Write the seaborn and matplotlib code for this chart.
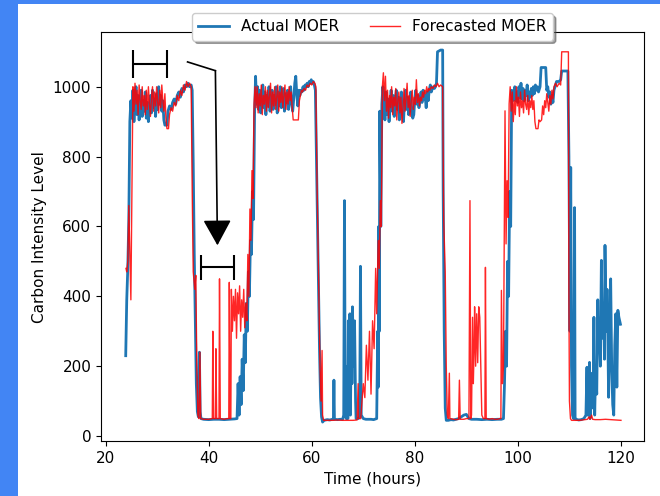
import matplotlib
matplotlib.use('Agg')
import matplotlib.pyplot as plt
import seaborn as sns
from matplotlib.patches import Rectangle

# hours since start
actual_t = [23.9, 24.1, 24.3, 24.5, 24.7, 24.9, 25.1, 25.3, 25.5, 25.7, 25.9, 26.1, 26.3, 26.5, 26.7,
            26.9, 27.1, 27.3, 27.5, 27.7, 27.9, 28.1, 28.3, 28.5, 28.7, 28.9, 29.1, 29.3, 29.5, 29.7,
            29.9, 30.1, 30.3, 30.5, 30.7, 30.9, 31.1, 31.3, 31.5, 31.9, 32.1, 32.4, 32.7, 33.0, 33.3,
            33.6, 33.9, 34.2, 34.5, 34.8, 35.1, 35.4, 35.7, 36.0, 36.3, 36.6, 36.8, 37.0, 37.2, 37.4,
            37.6, 37.8, 38.0, 38.2, 38.35, 38.5, 39.0, 40.0, 41.0, 42.0, 43.0, 44.0, 45.0, 45.5, 45.7,
            45.9, 46.1, 46.3, 46.5, 46.7, 46.9, 47.1, 47.3, 47.5, 47.7, 47.9, 48.1, 48.3, 48.5, 48.7,
            48.9, 49.1, 49.3, 49.5, 49.7, 49.9, 50.1, 50.3, 50.5, 50.7, 50.9, 51.1, 51.3, 51.5, 51.7,
            51.9, 52.1, 52.3, 52.5, 52.7, 52.9, 53.1, 53.3, 53.5, 53.7, 53.9, 54.1, 54.3, 54.5, 54.7,
            54.9, 55.1, 55.3, 55.5, 55.7, 55.9, 56.1, 56.3, 56.5, 56.7, 56.9, 57.1, 57.3, 57.5, 57.7,
            57.9, 58.1, 58.3, 58.5, 58.7, 58.9, 59.1, 59.3, 59.5, 59.7, 59.9, 60.1, 60.3, 60.5, 60.7,
            60.9, 61.1, 61.3, 61.5, 61.7, 61.9, 62.1, 62.4, 63.0, 63.5, 64.0, 64.2, 64.3, 64.4, 65.0,
            65.5, 66.0, 66.2, 66.35, 66.5, 66.7, 66.9, 67.0, 67.1, 67.3, 67.4, 67.5, 67.7, 67.8, 67.9,
            68.1, 68.3, 68.5, 68.6, 69.0, 69.3, 69.45, 69.6, 70.0, 70.5, 71.0, 71.5, 72.0, 72.6, 72.8,
            72.9, 73.0, 73.1, 73.2, 73.4, 73.6, 73.8, 74.0, 74.2, 74.4, 74.6, 74.8, 75.0, 75.2, 75.4,
            75.6, 75.8, 76.0, 76.2, 76.4, 76.6, 76.8, 77.0, 77.2, 77.4, 77.6, 77.8, 78.0, 78.2, 78.4,
            78.6, 78.8, 79.0, 79.2, 79.4, 79.6, 79.8, 80.0, 80.2, 80.4, 80.6, 80.8, 81.0, 81.2, 81.4,
            81.6, 81.8, 82.0, 82.2, 82.4, 82.6, 82.8, 83.0, 83.2, 83.4, 83.6, 83.8, 84.0, 84.2, 84.4,
            85.0, 85.4, 85.5, 85.7, 85.9, 86.1, 86.5, 87.0, 87.5, 88.0, 88.5, 89.0, 89.5, 90.0, 90.5,
            91.0, 92.0, 93.0, 94.0, 95.0, 96.0, 96.8, 97.2, 97.4, 97.6, 97.8, 98.0, 98.2, 98.4, 98.6,
            98.8, 99.0, 99.2, 99.4, 99.6, 99.8, 100.0, 100.2, 100.4, 100.6, 100.8, 101.0, 101.2, 101.4,
            101.6, 101.8, 102.0, 102.2, 102.4, 102.6, 102.8, 103.0, 103.2, 103.4, 103.6, 103.8, 104.0,
            104.3, 104.5, 105.4, 105.6, 105.8, 106.0, 106.2, 106.4, 106.6, 106.8, 107.0, 107.2, 107.5,
            108.0, 108.3, 108.5, 109.7, 109.9, 110.1, 110.25, 110.4, 110.6, 110.8, 111.0, 111.1, 111.3,
            111.8, 112.3, 112.8, 113.2, 113.4, 113.5, 113.7, 113.9, 114.0, 114.2, 114.4, 114.6, 114.75,
            114.9, 115.1, 115.3, 115.5, 115.6, 115.8, 116.0, 116.2, 116.4, 116.6, 116.8, 116.9, 117.1,
            117.3, 117.4, 117.6, 117.8, 118.0, 118.2, 118.4, 118.6, 118.8, 119.0, 119.2, 119.4, 119.6,
            119.9]
actual_v = [230, 390, 480, 620, 900, 960, 910, 990, 900, 960, 1000, 920, 975, 905, 950,
            990, 915, 960, 930, 985, 910, 955, 900, 945, 975, 925, 990, 940, 965, 915,
            980, 935, 1000, 950, 975, 930, 960, 905, 890, 890, 930, 945, 935, 955, 965,
            950, 975, 985, 970, 995, 985, 1005, 1000, 1010, 1000, 1005, 990, 780, 520, 330,
            150, 70, 55, 240, 70, 50, 48, 47, 48, 48, 47, 48, 49, 50, 150,
            60, 170, 90, 220, 130, 290, 210, 380, 300, 470, 400, 560, 520, 700, 620,
            920, 1030, 950, 1000, 935, 990, 925, 970, 1005, 940, 985, 920, 975, 945, 1000,
            930, 965, 990, 935, 975, 950, 1000, 925, 985, 945, 1000, 940, 970, 995, 930,
            980, 955, 990, 935, 975, 1000, 950, 930, 965, 1010, 1030, 975, 945, 990, 975,
            990, 985, 1000, 990, 1005, 1000, 1010, 1000, 1015, 1010, 1020, 1010, 1015, 1005, 990,
            800, 600, 420, 250, 110, 55, 40, 45, 47, 46, 48, 48, 160, 48, 47,
            48, 48, 60, 674, 60, 50, 200, 50, 330, 100, 350, 60, 320, 150, 370,
            200, 330, 100, 50, 50, 55, 486, 60, 50, 48, 48, 48, 47, 50, 300,
            140, 600, 300, 930, 600, 950, 1000, 960, 905, 985, 920, 965, 900, 950, 990,
            930, 975, 915, 960, 990, 935, 970, 905, 955, 985, 920, 900, 960, 990, 935,
            970, 920, 950, 985, 930, 910, 920, 965, 990, 950, 975, 940, 960, 985, 955,
            990, 965, 975, 940, 985, 960, 990, 1005, 985, 995, 1000, 995, 1000, 1010, 1100,
            1105, 1105, 700, 300, 80, 45, 45, 47, 46, 48, 50, 55, 60, 62, 50,
            48, 48, 47, 48, 47, 48, 48, 50, 150, 300, 200, 500, 400, 700, 600,
            990, 960, 975, 1000, 960, 985, 955, 1000, 970, 1010, 965, 995, 960, 990,
            975, 1005, 960, 985, 970, 995, 975, 1000, 980, 1005, 990, 1000, 985,
            1000, 1055, 1055, 990, 1000, 970, 985, 950, 975, 955, 990, 1000, 1015,
            1015, 1020, 1045, 1045, 800, 300, 769, 200, 60, 50, 654, 50, 48,
            46, 47, 50, 60, 197, 60, 120, 211, 50, 100, 180, 80, 340,
            60, 200, 120, 390, 290, 300, 200, 503, 280, 380, 220, 546, 300,
            420, 351, 111, 280, 450, 200, 90, 60, 260, 350, 140, 360, 340,
            320]

forecast_t = [23.95, 24.1, 24.3, 24.5, 24.7, 24.9, 25.1, 25.3, 25.5, 25.7, 25.9, 26.1, 26.3, 26.5,
              26.7, 26.9, 27.1, 27.3, 27.5, 27.7, 27.9, 28.1, 28.3, 28.5, 28.7, 28.9, 29.1, 29.3,
              29.5, 29.7, 29.9, 30.1, 30.3, 30.5, 30.7, 30.9, 31.1, 31.3, 31.5, 31.7, 31.9, 32.2,
              32.4, 32.7, 33.0, 33.3, 33.6, 33.9, 34.2, 34.5, 34.8, 35.1, 35.4, 35.7, 36.0, 36.3,
              36.6, 36.8, 37.0, 37.3, 37.5, 37.7, 37.9, 38.1, 38.3, 38.45, 39.0, 40.0, 40.7, 40.8,
              40.95, 41.3, 41.4, 41.55, 42.0, 42.1, 42.25, 43.0, 43.5, 43.9, 44.0, 44.15, 44.3, 44.4,
              44.6, 44.8, 45.0, 45.2, 45.4, 45.6, 45.8, 46.0, 46.2, 46.4, 46.6, 46.8, 47.0, 47.2,
              47.4, 47.6, 47.8, 48.0, 48.2, 48.4, 48.6, 48.8, 49.0, 49.2, 49.4, 49.6, 49.8, 50.0,
              50.2, 50.4, 50.6, 50.8, 51.0, 51.2, 51.4, 51.6, 51.8, 52.0, 52.2, 52.4, 52.6, 52.8,
              53.0, 53.2, 53.4, 53.6, 53.8, 54.0, 54.2, 54.4, 54.6, 54.8, 55.0, 55.2, 55.4, 55.6,
              55.8, 56.0, 56.2, 56.4, 57.4, 57.6, 57.8, 58.0, 58.2, 58.5, 58.8, 59.1, 59.4, 59.7,
              60.0, 60.3, 60.6, 60.8, 61.0, 61.2, 61.4, 61.6, 61.8, 62.0, 62.1, 62.3, 63.0, 64.0,
              65.0, 66.0, 67.0, 68.0, 68.8, 69.0, 69.1, 69.5, 70.0, 70.3, 70.6, 70.9, 71.2, 71.5,
              71.8, 72.1, 72.4, 72.6, 72.9, 73.1, 73.3, 73.5, 73.7, 73.9, 74.1, 74.3, 74.5, 74.7,
              74.9, 75.1, 75.3, 75.5, 75.7, 75.9, 76.1, 76.3, 76.5, 76.7, 76.9, 77.1, 77.3, 77.5,
              77.7, 77.9, 78.1, 78.3, 78.5, 78.7, 78.9, 79.1, 79.3, 79.5, 79.7, 79.9, 80.1, 80.3,
              80.5, 80.7, 80.9, 81.1, 81.3, 81.5, 81.7, 81.9, 82.1, 82.3, 82.5, 82.7, 82.9, 83.2,
              83.5, 83.8, 84.1, 84.4, 84.7, 85.0, 85.4, 85.6, 85.9, 86.1, 86.3, 86.5, 86.7, 86.8,
              87.5, 88.0, 88.5, 88.65, 88.8, 89.5, 90.0, 90.5, 90.7, 90.85, 91.0, 91.2, 91.35, 91.5,
              91.6, 91.8, 92.0, 92.2, 92.4, 92.6, 92.8, 93.0, 93.3, 93.6, 93.7, 93.85, 94.5, 95.0,
              95.5, 96.0, 96.5, 96.7, 96.8, 97.0, 97.2, 97.4, 97.5, 97.7, 97.9, 98.1, 98.3, 98.5,
              98.7, 98.9, 99.1, 99.3, 99.5, 99.7, 99.9, 100.1, 100.3, 100.5, 100.7, 100.9, 101.1,
              101.3, 101.5, 101.7, 101.9, 102.1, 102.3, 102.5, 102.7, 102.9, 103.1, 103.3, 103.5,
              103.9, 104.1, 104.3, 104.6, 104.8, 105.0, 105.2, 105.4, 105.6, 105.8, 106.0, 106.2,
              106.4, 106.6, 106.8, 107.0, 107.3, 107.6, 108.0, 108.3, 108.5, 109.8, 109.9, 110.0,
              110.2, 110.4, 111.0, 112.0, 113.0, 113.5, 113.8, 114.0, 114.3, 114.5, 115.0, 116.0,
              117.0, 118.0, 119.0, 120.0]
forecast_v = [480, 470, 500, 660, 520, 390, 700, 1000, 930, 1010, 950, 990, 920, 1005,
              960, 935, 1000, 945, 975, 920, 990, 935, 1000, 950, 915, 970, 1000, 930,
              985, 945, 1000, 955, 925, 990, 940, 1005, 960, 930, 980, 910, 880, 880,
              920, 940, 930, 955, 945, 975, 960, 990, 975, 1005, 990, 1015, 1000, 1010,
              1000, 700, 470, 420, 460, 200, 60, 50, 240, 50, 48, 48, 50, 300,
              50, 50, 250, 50, 50, 450, 50, 48, 50, 50, 440, 50, 50, 420,
              300, 400, 330, 420, 280, 410, 350, 430, 300, 390, 340, 420, 310, 380,
              330, 520, 400, 650, 560, 760, 680, 950, 1000, 940, 1000, 925, 980, 945,
              1005, 920, 975, 950, 1000, 930, 990, 940, 975, 1010, 925, 985, 945, 1000,
              935, 970, 1005, 930, 985, 955, 1000, 940, 975, 1005, 935, 985, 950, 1000,
              960, 985, 940, 905, 905, 960, 975, 990, 985, 995, 990, 1005, 1000, 1010,
              1005, 1015, 1010, 1000, 750, 560, 380, 200, 100, 245, 60, 45, 45, 45,
              46, 45, 45, 45, 46, 150, 50, 50, 150, 110, 260, 160, 300, 120,
              330, 250, 480, 350, 560, 480, 674, 600, 1000, 1040, 960, 1030, 930, 990,
              910, 975, 940, 1000, 920, 970, 945, 995, 905, 960, 985, 925, 970, 895,
              940, 995, 930, 965, 1010, 940, 975, 915, 960, 990, 935, 970, 950, 1020,
              955, 980, 945, 970, 960, 985, 970, 990, 980, 1000, 985, 995, 990, 1000,
              995, 1005, 1000, 1010, 1000, 1005, 1000, 620, 470, 200, 60, 50, 180, 50,
              48, 47, 48, 160, 48, 48, 50, 50, 674, 50, 60, 340, 150, 250,
              370, 200, 350, 210, 370, 340, 200, 60, 50, 50, 483, 50, 48, 50,
              48, 48, 50, 50, 417, 150, 200, 700, 931, 550, 731, 626, 951, 1000,
              930, 985, 900, 960, 920, 1000, 945, 970, 915, 985, 940, 960, 925,
              990, 950, 935, 975, 920, 960, 940, 975, 935, 960, 900, 880,
              880, 905, 900, 905, 945, 920, 960, 940, 980, 955, 930, 975,
              950, 990, 965, 1000, 1010, 1000, 1010, 1005, 1100, 1100, 400, 100,
              50, 45, 45, 45, 47, 48, 55, 48, 60, 48, 47, 47,
              48, 47, 46, 45]

plt.rcParams['font.size'] = 11

fig = plt.figure(figsize=(6.6, 4.96), dpi=100, facecolor='#4285f4')
# white slide area, blue strip left and top
fig.add_artist(Rectangle((18 / 660, 0), 1, 1 - 4 / 496, transform=fig.transFigure,
                         facecolor='white', edgecolor='none', zorder=-1))
ax = fig.add_axes([0.153, 0.111, 0.823, 0.824])

sns.lineplot(x=actual_t, y=actual_v, ax=ax, color='#1f77b4', lw=2,
             label='Actual MOER', sort=False, estimator=None)
sns.lineplot(x=forecast_t, y=forecast_v, ax=ax, color='red', lw=1, alpha=0.85,
             label='Forecasted MOER', sort=False, estimator=None)

# forecast-window brackets and arrow
ax.errorbar(28.7, 1066, xerr=3.3, color='black', capsize=10, lw=1.5, capthick=1.5)
ax.errorbar(41.8, 483, xerr=3.2, color='black', capsize=9, lw=1.5, capthick=1.5)
ax.plot([35.9, 41.3], [1071, 1046], color='black', lw=1.2)
ax.annotate('', xy=(41.7, 546), xytext=(41.3, 1046),
            arrowprops=dict(arrowstyle='-|>,head_length=1.45,head_width=0.8',
                            color='black', lw=1.2, shrinkA=0, shrinkB=0))

ax.set_xlim(19.1, 124.5)
ax.set_ylim(-14, 1156)
ax.set_xlabel('Time (hours)')
ax.set_ylabel('Carbon Intensity Level')
ax.legend(loc='upper center', bbox_to_anchor=(0.5, 1.065), ncol=2, shadow=True)

fig.savefig('out.png', dpi=100, facecolor=fig.get_facecolor())
